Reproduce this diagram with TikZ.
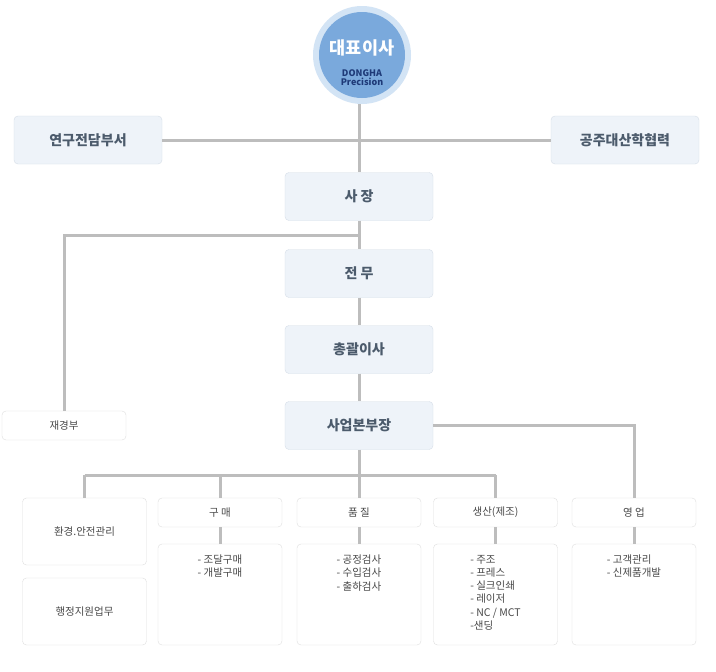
\documentclass[tikz,border=0pt]{standalone}
\usepackage{fontspec}
\newfontfamily\kr{Noto Sans CJK KR}
\usepackage{tikz}
\usetikzlibrary{calc}
\tikzset{>=latex}
\definecolor{linegray}{HTML}{BDBDBD}
\definecolor{topfill}{HTML}{EEF3F9}
\definecolor{topdraw}{HTML}{D6DEE8}
\definecolor{toptext}{HTML}{4C5B6C}
\definecolor{subdraw}{HTML}{DEDEDE}
\definecolor{subtext}{HTML}{484848}
\definecolor{ceofill}{HTML}{7AA9DC}
\definecolor{ceohalo}{HTML}{D3E4F5}
\definecolor{ceotext}{HTML}{1E3A78}

\begin{document}
\begin{tikzpicture}[x=1pt,y=-1pt,
    conn/.style={draw=linegray,line width=3pt},
    topbox/.style={draw=topdraw,fill=topfill,rounded corners=4pt,minimum width=148pt,minimum height=48pt,inner sep=0pt,
      font=\kr\fontsize{14}{16}\selectfont\bfseries,text=toptext},
    subbox/.style={draw=subdraw,fill=white,rounded corners=4pt,minimum width=124pt,inner sep=0pt,
      font=\kr\fontsize{10.5}{12}\selectfont,text=subtext},
    listtext/.style={anchor=north,align=left,inner sep=0pt,font=\kr\fontsize{10.5}{13.3}\selectfont,text=subtext}]
    \useasboundingbox[fill=white] (0,0) rectangle (716,672);

    % ceo
    \node[circle,fill=ceohalo,minimum size=98pt,inner sep=0pt] (ceo) at (362,55) {};
    \fill[ceofill] (ceo.center) circle (43pt);
    \node[font=\kr\fontsize{17.5}{19}\selectfont\bfseries,text=white] (ceoname) at (362,48) {대표이사};
    \node[font=\kr\fontsize{9}{10}\selectfont\bfseries,text=ceotext,align=center] (ceosub) at (362,77.5) {DONGHA\\[-1pt]Precision};

    % upper chain
    \node[topbox] (lab) at (88,140) {연구전담부서};
    \node[topbox] (univ) at (625,140) {공주대산학협력};
    \node[topbox] (pres) at (359,196.5) {사 장};
    \node[topbox] (exec) at (359,273.5) {전 무};
    \node[topbox] (gm) at (359,349.5) {총괄이사};
    \node[topbox] (biz) at (359,425.5) {사업본부장};
    \node[subbox,minimum width=124pt,minimum height=29pt] (fin) at (64,425.5) {재경부};

    \draw[conn] (ceo.south -| pres.north) -- (pres.north);
    \draw[conn] (lab.east) -- (univ.west);
    \foreach \a/\b in {pres/exec,exec/gm,gm/biz} {
      \draw[conn] (\a.south) -- (\b.north);
    }
    \coordinate (fork1) at (359,235);
    \draw[conn] (fork1) -| (fin.north);

    % departments
    \node[subbox,minimum height=67pt] (env) at (84.5,531.5) {환경.안전관리};
    \node[subbox,minimum height=67pt] (admin) at (84.5,611.5) {행정지원업무};
    \foreach \n/\x/\t in {buy/220/구 매,qual/359/품 질,prod/495.5/생산(제조),sales/634/영 업} {
      \node[subbox,minimum height=29pt] (\n) at (\x,512.5) {\t};
      \node[subbox,minimum height=101pt] (\n-list) at (\x,594.5) {};
      \draw[conn] (\n.south) -- (\n-list.north);
    }
    \node[listtext] (buytext) at ($(buy-list.north)+(0,11)$) {- 조달구매\\- 개발구매};
    \node[listtext] (qualtext) at ($(qual-list.north)+(0,11)$) {- 공정검사\\- 수입검사\\- 출하검사};
    \node[listtext] (prodtext) at ($(prod-list.north)+(0,11)$) {- 주조\\- 프레스\\- 실크인쇄\\- 레이저\\- NC / MCT\\-샌딩};
    \node[listtext] (salestext) at ($(sales-list.north)+(0,11)$) {- 고객관리\\- 신제품개발};

    \coordinate (fork2) at (359,475);
    \draw[conn] (biz.south) -- (fork2);
    \draw[conn] (biz.east) -| (sales.north);
    \draw[conn] (env.north |- fork2) -- (prod.north |- fork2);
    \foreach \n in {env,buy,prod} {
      \draw[conn] (\n.north |- fork2) -- (\n.north);
    }
    \draw[conn] (fork2) -- (qual.north);
\end{tikzpicture}
\end{document}
